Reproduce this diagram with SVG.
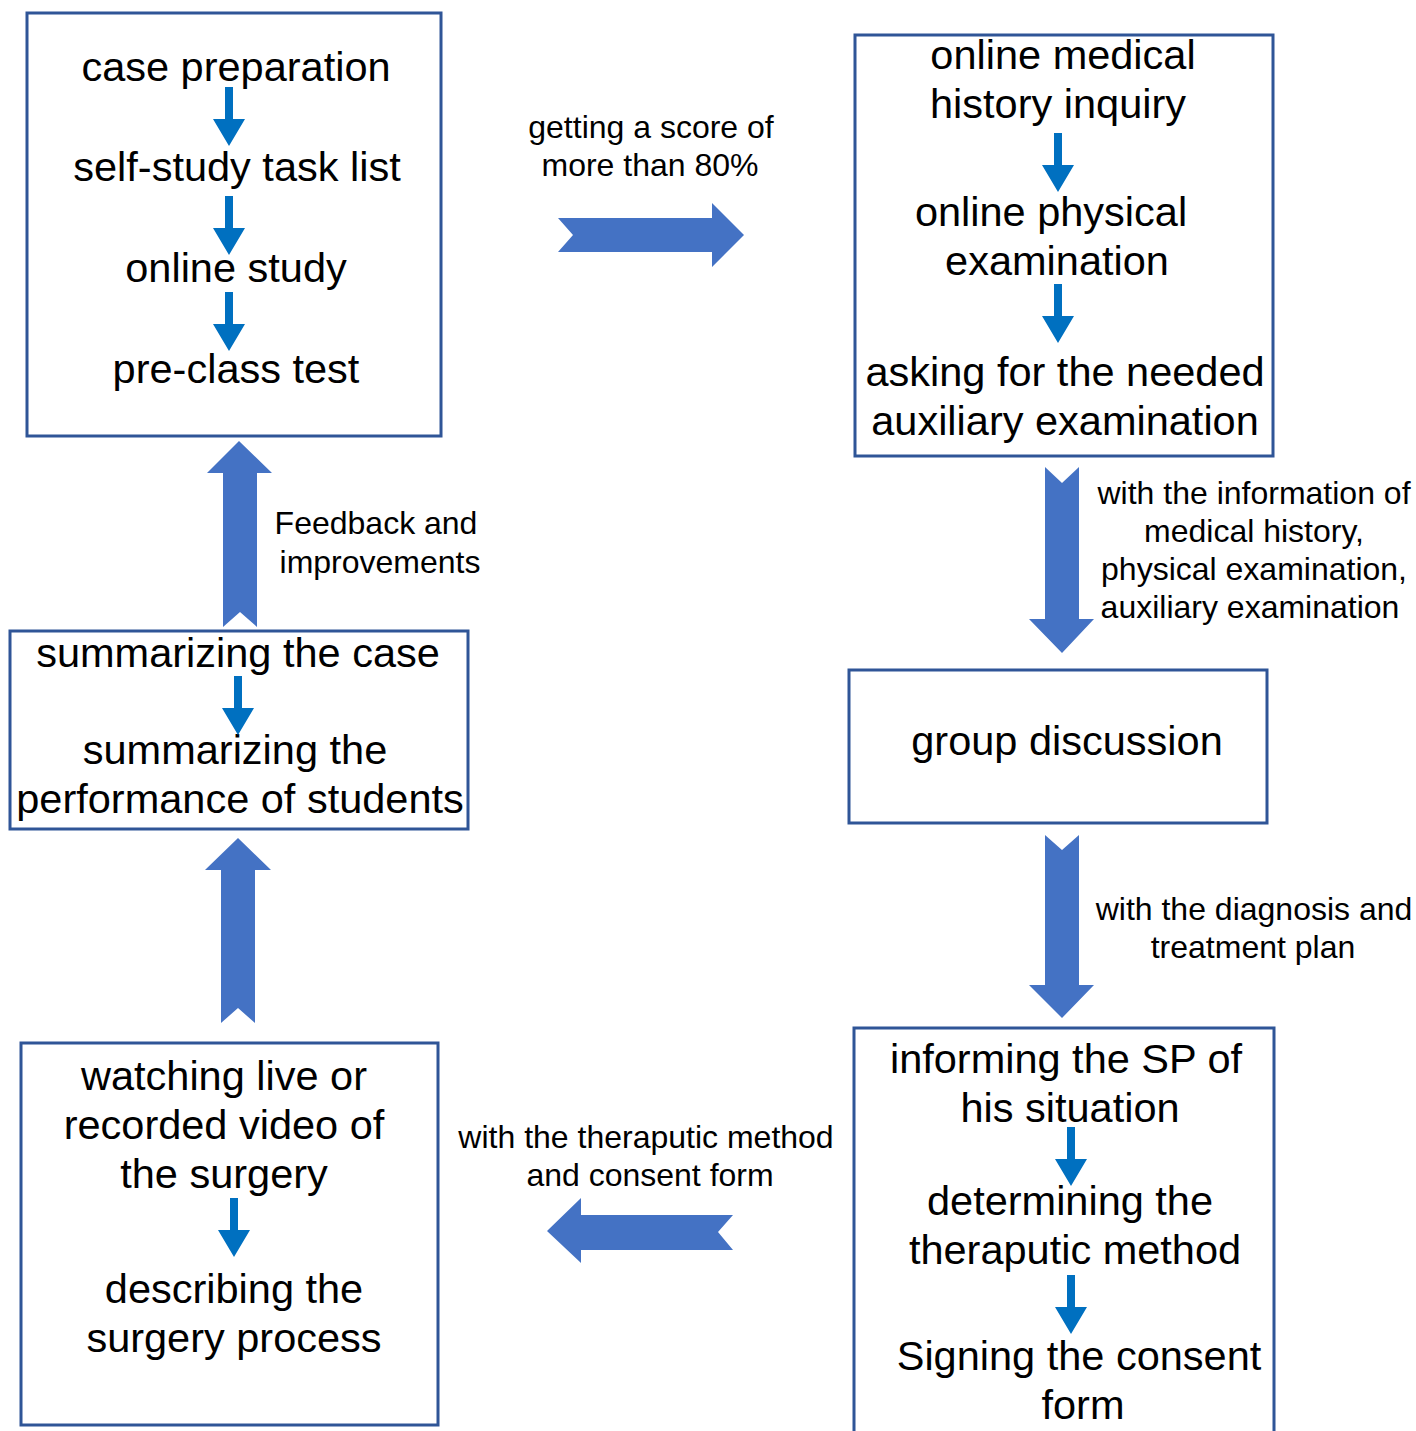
<svg xmlns="http://www.w3.org/2000/svg" width="1416" height="1431" viewBox="0 0 1416 1431">
<defs>
<style>
.box{fill:#fff;stroke:#2F5597;stroke-width:3}
.big{fill:#4472C4}
.sm{fill:#0070C0}
text{font-family:"Liberation Sans",Arial,sans-serif;fill:#000;text-anchor:middle}
.t{font-size:41.5px}
.l{font-size:32px}
</style>
<g id="small-down"><path d="M-4,0 H4 V32 H16 L0,59 L-16,32 H-4 Z"/></g>
</defs>
<rect width="1416" height="1431" fill="#fff"/>
<g id="node-prep">
<rect class="box" x="27" y="13" width="414" height="423"/>
<text class="t" x="236" y="81">case preparation</text>
<text class="t" x="237" y="181">self-study task list</text>
<text class="t" x="236" y="282">online study</text>
<text class="t" x="236" y="383">pre-class test</text>
</g>
<g id="node-online">
<rect class="box" x="855" y="35" width="418" height="421"/>
<text class="t" x="1063" y="69">online medical</text>
<text class="t" x="1058" y="118">history inquiry</text>
<text class="t" x="1051" y="226">online physical</text>
<text class="t" x="1057" y="275">examination</text>
<text class="t" x="1065" y="386">asking for the needed</text>
<text class="t" x="1065" y="435">auxiliary examination</text>
</g>
<g id="node-group">
<rect class="box" x="849" y="670" width="418" height="153"/>
<text class="t" x="1067" y="755">group discussion</text>
</g>
<g id="node-inform">
<path class="box" d="M854,1440 V1028 H1274 V1440"/>
<text class="t" x="1066" y="1073">informing the SP of</text>
<text class="t" x="1070" y="1122">his situation</text>
<text class="t" x="1070" y="1215">determining the</text>
<text class="t" x="1075" y="1264">theraputic method</text>
<text class="t" x="1079" y="1370">Signing the consent</text>
<text class="t" x="1083" y="1419">form</text>
</g>
<g id="node-summary">
<rect class="box" x="10" y="631" width="458" height="198"/>
<text class="t" x="238" y="667">summarizing the case</text>
<text class="t" x="235" y="764">summarizing the</text>
<text class="t" x="240" y="813">performance of students</text>
</g>
<g id="node-watch">
<rect class="box" x="21" y="1043" width="417" height="382"/>
<text class="t" x="224" y="1090">watching live or</text>
<text class="t" x="224" y="1139">recorded video of</text>
<text class="t" x="224" y="1188">the surgery</text>
<text class="t" x="234" y="1303">describing the</text>
<text class="t" x="234" y="1352">surgery process</text>
</g>
<g id="connectors">
<g class="sm">
<use href="#small-down" x="229" y="87"/>
<use href="#small-down" x="229" y="196"/>
<use href="#small-down" x="229" y="292"/>
<use href="#small-down" x="1058" y="133"/>
<use href="#small-down" x="1058" y="284"/>
<use href="#small-down" x="238" y="676"/>
<use href="#small-down" x="234" y="1198"/>
<use href="#small-down" x="1071" y="1127"/>
<use href="#small-down" x="1071" y="1275"/>
</g>
<g class="big">
<path d="M558,218 H712 V203 L744,235 L712,267 V252 H558 L573,235 Z"/>
<path d="M1045,467 L1062,483 L1079,467 V619 H1094 L1062,653 L1029,619 H1045 Z"/>
<path d="M1045,835 L1062,850 L1079,835 V985 H1094 L1062,1018 L1029,985 H1045 Z"/>
<path d="M733,1215 H581 V1198 L547,1231 L581,1263 V1250 H733 L718,1232 Z"/>
<path d="M223,627 L240,612 L257,627 V473 H272 L239,441 L207,473 H223 Z"/>
<path d="M221,1023 L238,1008 L255,1023 V870 H271 L238,838 L205,870 H221 Z"/>
</g>
<text class="l" x="651" y="138">getting a score of</text>
<text class="l" x="650" y="176">more than 80%</text>
<text class="l" x="1254" y="504">with the information of</text>
<text class="l" x="1254" y="542">medical history,</text>
<text class="l" x="1254" y="580">physical examination,</text>
<text class="l" x="1250" y="618">auxiliary examination</text>
<text class="l" x="376" y="534">Feedback and</text>
<text class="l" x="380" y="573">improvements</text>
<text class="l" x="1254" y="920">with the diagnosis and</text>
<text class="l" x="1253" y="958">treatment plan</text>
<text class="l" x="646" y="1148">with the theraputic method</text>
<text class="l" x="650" y="1186">and consent form</text>
</g>
</svg>
